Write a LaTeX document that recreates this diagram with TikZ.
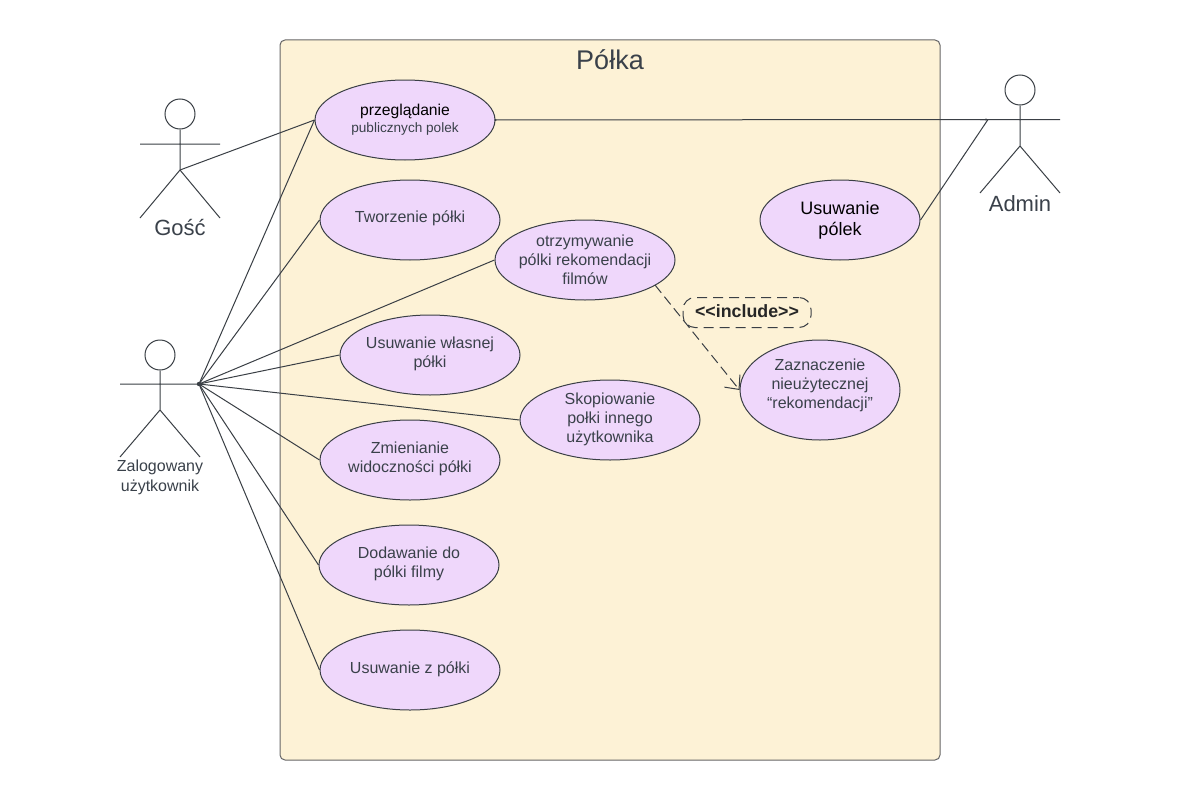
\documentclass[tikz,border=0pt]{standalone}
\usepackage{fontspec}
\setmainfont{Liberation Sans}
\usetikzlibrary{shapes.geometric,arrows.meta}
\definecolor{txt}{HTML}{3A414A}
\definecolor{ln}{HTML}{3A3F45}
\definecolor{panel}{HTML}{FDF2D6}
\definecolor{uc}{HTML}{EFD7FB}
\newcommand{\dpt}[1]{\rule[-#1pt]{0pt}{0pt}}
\tikzset{
  uc/.style={ellipse,draw=ln,fill=uc,line width=1pt,inner sep=-20pt,align=center,text=txt,font=\fontsize{16}{20}\selectfont,minimum width=180pt,minimum height=80pt},
  link/.style={draw=ln,line width=1pt},
  stick/.style={draw=ln,line width=1pt},
  lbl/.style={text=txt,align=center,inner sep=0pt},
}
\begin{document}
\begin{tikzpicture}[x=1pt,y=-1pt]
\useasboundingbox (0,0) rectangle (1180,800);
\fill[white] (0,0) rectangle (1180,800);
\draw[draw=black!60,fill=panel,line width=1pt,rounded corners=5pt] (280,40) rectangle (940,760);
\node[lbl,font=\fontsize{27}{30}\selectfont] (title) at (610,60) {Półka};

\node[uc,font=\fontsize{15.7}{20}\selectfont] (e1) at (405,120) {\textcolor{black}{przeglądanie}\\[-3pt]{\fontsize{13.6}{16}\selectfont publicznych polek}};
\node[uc] (e2) at (410,220) {Tworzenie półki\dpt{6}};
\node[uc] (e3) at (585,260) {otrzymywanie\\[-1pt]pólki rekomendacji\\[-1pt]filmów};
\node[uc] (e4) at (430,355) {Usuwanie własnej\\[-1pt]półki\dpt{5}};
\node[uc] (e5) at (610,420) {Skopiowanie\\[-1pt]połki innego\\[-1pt]użytkownika\dpt{4}};
\node[uc] (e6) at (410,460) {Zmienianie\\[-1pt]widoczności półki\dpt{6}};
\node[uc] (e7) at (409,565) {Dodawanie do\\[-1pt]pólki filmy\dpt{6}};
\node[uc] (e8) at (410,670) {Usuwanie z półki\dpt{5}};
\node[uc,minimum width=160pt,text=black,font=\fontsize{18}{21}\selectfont] (e9) at (840,220) {Usuwanie\\pólek};
\node[uc,minimum width=160pt,minimum height=100pt] (e10) at (820,390) {Zaznaczenie\\[-1pt]nieużytecznej\\[-1pt]“rekomendacji”\dpt{12}};

% Gość
\node[circle,draw=ln,line width=1pt,minimum size=30pt,inner sep=0pt] (h1) at (180,114) {};
\coordinate (hip1) at (180,170);
\coordinate (la1) at (140,144); \coordinate (ra1) at (220,144);
\coordinate (ll1) at (140,218); \coordinate (rl1) at (220,218);
\draw[stick] (h1.south) -- (hip1) (la1) -- (ra1) (ll1) -- (hip1) -- (rl1);
\node[lbl,font=\fontsize{22}{24}\selectfont] (n1) at (180,228) {Gość};

% Zalogowany
\node[circle,draw=ln,line width=1pt,minimum size=30pt,inner sep=0pt] (h2) at (160,355) {};
\coordinate (hip2) at (160,410);
\coordinate (la2) at (120,384); \coordinate (ra2) at (199,384);
\coordinate (ll2) at (120,457); \coordinate (rl2) at (200,457);
\draw[stick] (h2.south) -- (hip2) (la2) -- (ra2) (ll2) -- (hip2) -- (rl2);
\node[lbl,font=\fontsize{16}{20}\selectfont] (n2) at (160,477) {Zalogowany\\użytkownik};

% Admin
\node[circle,draw=ln,line width=1pt,minimum size=30pt,inner sep=0pt] (h3) at (1020,90) {};
\coordinate (hip3) at (1020,146);
\coordinate (la3) at (980,119.5); \coordinate (ra3) at (1060,119.5);
\coordinate (ll3) at (980,193); \coordinate (rl3) at (1060,193);
\coordinate (admin) at (988,119.5);
\draw[stick] (h3.south) -- (hip3) (la3) -- (ra3) (ll3) -- (hip3) -- (rl3);
\node[lbl,font=\fontsize{22}{24}\selectfont] (n3) at (1020,204) {Admin};

% connectors
\draw[link] (hip1) -- (e1.west);
\foreach \t in {e1,e2,e3,e4,e5,e6,e7,e8} \draw[link] (ra2) -- (\t.west);
\fill[ln] (ra2) circle (2.2pt);
\draw[link] (e1.east) -- (admin);
\draw[link] (e9.east) -- (admin);
\fill[ln] (admin) +(-2,0) circle (1.2pt);
\fill[ln] (e1.east) circle (1.2pt);

\coordinate (incfrom) at (655,285);
\draw[link,dash pattern=on 10pt off 5pt,-{Straight Barb[length=11pt,width=20pt,line width=1pt]}] (incfrom) -- (e10.west);
\node[draw=ln,dash pattern=on 10pt off 6pt,dash phase=4pt,line width=1pt,rounded corners=12pt,minimum width=128pt,minimum height=30pt,inner sep=0pt,text=black!85,font=\bfseries\fontsize{17.8}{18}\selectfont] (inc) at (747,312.5) {\raisebox{2pt}{<{}<include>{}>}};
\end{tikzpicture}
\end{document}
